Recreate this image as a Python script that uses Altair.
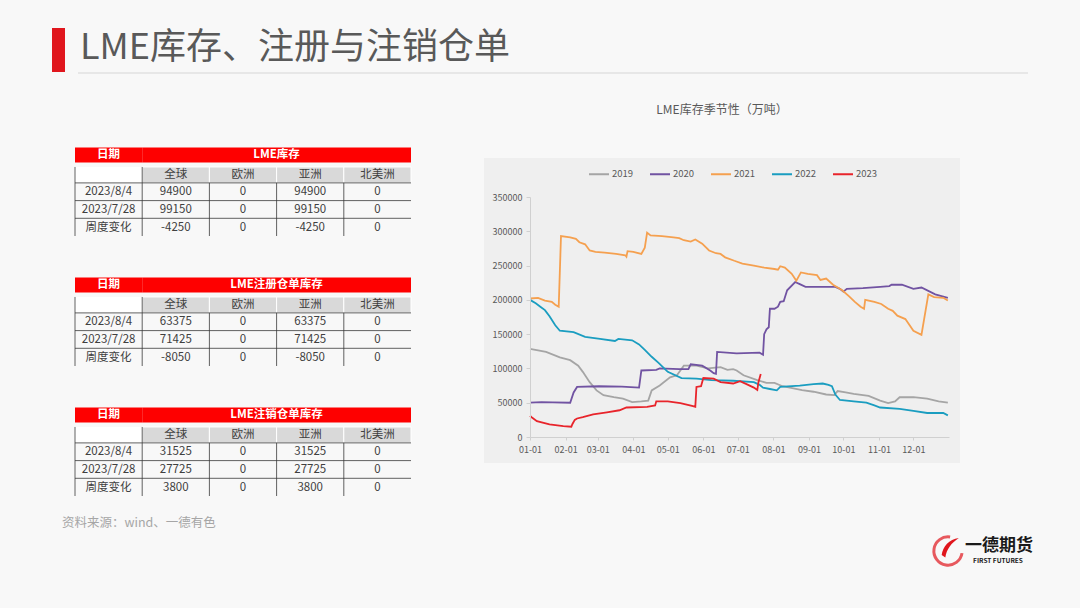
import altair as alt
import pandas as pd

# ---------------- text ----------------
TITLE = "LME库存、注册与注销仓单"
CHART_TITLE = "LME库存季节性（万吨）"
SOURCE = "资料来源：wind、一德有色"
LOGO_CN = "一德期货"
LOGO_EN = "FIRST FUTURES"

# ---------------- tables ----------------
table_titles = ["LME库存", "LME注册仓单库存", "LME注销仓单库存"]
date_header = "日期"
regions = ["全球", "欧洲", "亚洲", "北美洲"]
row_labels = ["2023/8/4", "2023/7/28", "周度变化"]
stock_rows = [[94900, 0, 94900, 0], [99150, 0, 99150, 0], [-4250, 0, -4250, 0]]
registered_rows = [[63375, 0, 63375, 0], [71425, 0, 71425, 0], [-8050, 0, -8050, 0]]
cancelled_rows = [[31525, 0, 31525, 0], [27725, 0, 27725, 0], [3800, 0, 3800, 0]]

# ---------------- seasonal chart (day of year, tonnes) ----------------
years = ["2019", "2020", "2021", "2022", "2023"]
year_colors = ["#a5a5a5", "#7153a2", "#f5a04f", "#1a9dc0", "#e8242b"]

d2019 = [0, 14, 26, 35, 42, 46, 52, 58, 64, 73, 81, 89, 97, 103, 106, 113, 122, 128, 134, 145,
         155, 166, 172, 177, 180, 186, 198, 206, 213, 220, 237, 247, 258, 265, 268, 275, 282, 295,
         305, 312, 318, 322, 334, 346, 356, 364]
v2019 = [128500, 124000, 116000, 112000, 104000, 95000, 80000, 68000, 61000, 58000, 56000, 51000,
         52000, 53000, 68000, 75000, 87000, 90000, 104000, 104000, 100000, 102000, 98000, 99000,
         97000, 90000, 83000, 79000, 79000, 74000, 68500, 66000, 62000, 61000, 67000, 65000, 63000,
         60000, 53000, 49500, 52000, 58000, 58000, 56000, 52000, 50000]

d2020 = [0, 10, 20, 35, 38, 41, 60, 80, 95, 97, 110, 113, 130, 138, 140, 150, 157, 160, 162, 163,
         180, 200, 203, 204, 206, 208, 209, 213, 216, 218, 221, 224, 231, 235, 240, 266, 270, 273,
         276, 290, 305, 313, 315, 324, 334, 341, 353, 364]
v2020 = [50000, 51000, 50500, 50000, 65000, 73000, 74000, 73500, 72000, 97000, 98000, 100000,
         99000, 99000, 106000, 104000, 97000, 93000, 92000, 124000, 122000, 123000, 120000, 150000,
         157000, 160000, 187000, 187000, 190000, 197000, 198000, 214000, 226000, 223000, 219000,
         219000, 216000, 212000, 216000, 217000, 219000, 220000, 222000, 222000, 216000, 218000,
         208000, 203000]

d2021 = [0, 7, 13, 19, 22, 25, 27, 35, 40, 43, 48, 52, 57, 65, 75, 83, 84, 85, 90, 97, 100, 102,
         105, 115, 125, 130, 134, 140, 144, 150, 156, 162, 166, 170, 178, 185, 195, 204, 213, 216,
         218, 222, 228, 232, 236, 242, 250, 253, 258, 264, 272, 278, 283, 288, 291, 292, 300, 306,
         312, 316, 320, 327, 334, 341, 347, 352, 360, 364]
v2021 = [202000, 203000, 199000, 197000, 193000, 190000, 293000, 291000, 289000, 284000, 281000,
         272000, 270000, 269000, 267000, 265000, 263000, 271000, 270000, 267000, 276000, 298000,
         294000, 293000, 291000, 290000, 287000, 285000, 288000, 282000, 272000, 268000, 267000,
         262000, 257000, 253000, 250000, 247000, 245000, 244000, 249000, 247000, 238000, 228000,
         240000, 238000, 236000, 229000, 231000, 222000, 214000, 205000, 197000, 190000, 187000,
         200000, 197000, 194000, 187000, 184000, 177000, 172000, 155000, 149000, 208000, 204000,
         203000, 199000]

d2022 = [0, 5, 9, 13, 17, 22, 26, 38, 48, 61, 74, 77, 89, 95, 100, 106, 112, 120, 132, 145, 158,
         177, 195, 200, 203, 209, 215, 218, 235, 247, 255, 260, 263, 266, 270, 282, 293, 300, 305,
         322, 334, 346, 360, 364]
v2022 = [200000, 195000, 190000, 185000, 176000, 163000, 155000, 153000, 146000, 143000, 140000,
         143000, 141000, 135000, 127000, 117000, 108000, 95000, 86000, 85000, 83000, 82000, 80000,
         76000, 72000, 70000, 68000, 73000, 75000, 77000, 78000, 76000, 74000, 62000, 54000, 52000,
         50000, 46000, 43000, 41000, 38000, 35000, 35000, 31500]

d2023 = [0, 2, 6, 17, 29, 36, 37, 39, 41, 46, 55, 67, 78, 84, 102, 109, 110, 120, 131, 142, 144,
         145, 149, 151, 160, 166, 177, 183, 190, 195, 198, 199, 201]
v2023 = [31000, 28000, 23000, 18500, 16000, 15000, 19000, 25000, 27000, 29000, 33000, 36000,
         39000, 43000, 44000, 46000, 52000, 52000, 49500, 45000, 44000, 73000, 74000, 86000, 85000,
         80000, 78000, 81500, 76000, 72000, 68500, 80000, 92000]

month_starts = [0, 31, 59, 90, 120, 151, 181, 212, 243, 273, 304, 334]
y_ticks = [0, 50000, 100000, 150000, 200000, 250000, 300000, 350000]

# ---------------- layout ----------------
PW, PH = 1080, 608
X0, Y0, W, H = 530, 197, 419, 240
FONT = "Microsoft YaHei, Noto Sans CJK SC"
TXT = "#595959"
BG = "#f8f8f8"


def vx(p):
    return p - X0


def vy(p):
    return p - Y0


def one():
    return pd.DataFrame({"k": [0]})


# panel behind the seasonal chart
panel = alt.Chart(one()).mark_rect(color="#efefef").encode(
    x=alt.value(vx(484)), x2=alt.value(vx(960)), y=alt.value(vy(158)), y2=alt.value(vy(463))
)

series = {"2019": (d2019, v2019), "2020": (d2020, v2020), "2021": (d2021, v2021),
          "2022": (d2022, v2022), "2023": (d2023, v2023)}
lines_df = pd.concat(
    [pd.DataFrame({"year": k, "day": d, "value": v}) for k, (d, v) in series.items()],
    ignore_index=True,
)

lines = alt.Chart(lines_df).mark_line(strokeWidth=1.8).encode(
    x=alt.X("day:Q", scale=alt.Scale(domain=[0, 365], nice=False, zero=False),
            axis=alt.Axis(orient="bottom", values=month_starts, title=None, grid=False,
                          labelExpr="timeFormat(datetime(2023, 0, 1 + datum.value), '%m-%d')",
                          labelFontSize=9, labelColor=TXT, labelFont=FONT, labelPadding=5,
                          labelFlush=False, labelOverlap=False,
                          domainColor="#d0d0d0", tickColor="#d0d0d0", tickSize=3, zindex=1)),
    y=alt.Y("value:Q", scale=alt.Scale(domain=[0, 350000], nice=False),
            axis=alt.Axis(orient="left", values=y_ticks, format="d", title=None, grid=False,
                          labelFontSize=9, labelColor=TXT, labelFont=FONT, labelPadding=4,
                          labelFlush=False, labelOverlap=False,
                          domainColor="#d0d0d0", tickColor="#d0d0d0", tickSize=4, zindex=1)),
    color=alt.Color("year:N", scale=alt.Scale(domain=years, range=year_colors),
                    legend=alt.Legend(orient="none", legendX=58, legendY=-34,
                                      direction="horizontal", title=None, symbolType="stroke",
                                      symbolStrokeWidth=2, symbolSize=400, labelFontSize=9.5,
                                      labelColor=TXT, labelFont=FONT, columnPadding=12,
                                      labelOffset=2)),
)


def make_table(title, rows, top):
    xs = alt.Scale(domain=[0, 5], range=[vx(75), vx(411)], nice=False, zero=False)
    ys = alt.Scale(domain=[0, 5], range=[vy(top), vy(top + 88.5)], nice=False, zero=False)

    red = pd.DataFrame({"c0": [0, 1], "c1": [1, 5], "r0": [0, 0], "r1": [0.85, 0.85]})
    gray = pd.DataFrame({"c0": [1, 2, 3, 4], "c1": [2, 3, 4, 5], "r0": [1.1] * 4, "r1": [2] * 4})
    blank = pd.DataFrame({"c0": [0], "c1": [1], "r0": [1.1], "r1": [2]})

    def rects(df, fill, stroke=None):
        kw = {"stroke": stroke, "strokeWidth": 1} if stroke else {}
        return alt.Chart(df).mark_rect(color=fill, **kw).encode(
            x=alt.X("c0:Q", scale=xs, axis=None), x2="c1:Q",
            y=alt.Y("r0:Q", scale=ys, axis=None), y2="r1:Q",
        )

    rules_rows = []
    for c in [0, 1]:
        rules_rows.append({"a": c, "b": c, "r0": 1.1, "r1": 5})
    for c in [2, 3, 4]:
        rules_rows.append({"a": c, "b": c, "r0": 2, "r1": 5})
    for r in [2, 3, 4]:
        rules_rows.append({"a": 0, "b": 5, "r0": r, "r1": r})
    rules = alt.Chart(pd.DataFrame(rules_rows)).mark_rule(color="#3a3a3a", strokeWidth=0.8).encode(
        x=alt.X("a:Q", scale=xs, axis=None), x2="b:Q",
        y=alt.Y("r0:Q", scale=ys, axis=None), y2="r1:Q",
    )

    head_txt = pd.DataFrame({"cx": [0.5, 3], "cy": [0.45, 0.45], "t": [date_header, title]})
    body = []
    for i, reg in enumerate(regions):
        body.append({"cx": i + 1.5, "cy": 1.57, "t": reg})
    for r, (lab, vals) in enumerate(zip(row_labels, rows)):
        body.append({"cx": 0.5, "cy": r + 2.52, "t": lab})
        for i, v in enumerate(vals):
            body.append({"cx": i + 1.5, "cy": r + 2.52, "t": str(v)})
    body_txt = pd.DataFrame(body)

    def texts(df, color, weight, size):
        return alt.Chart(df).mark_text(color=color, fontWeight=weight, fontSize=size, font=FONT,
                                       baseline="middle", align="center").encode(
            x=alt.X("cx:Q", scale=xs, axis=None),
            y=alt.Y("cy:Q", scale=ys, axis=None),
            text="t:N",
        )

    return alt.layer(
        rects(blank, "#ffffff"),
        rects(red, "#fe0000"),
        rects(gray, "#d9d9d9", stroke="#ffffff"),
        rules,
        texts(head_txt, "#ffffff", "bold", 11.5),
        texts(body_txt, "#404040", "normal", 11.5),
    )


t1 = make_table(table_titles[0], stock_rows, 147.5)
t2 = make_table(table_titles[1], registered_rows, 277.5)
t3 = make_table(table_titles[2], cancelled_rows, 407.5)

# decorations
title_bar = alt.Chart(one()).mark_rect(color="#e0161d").encode(
    x=alt.value(vx(52)), x2=alt.value(vx(65)), y=alt.value(vy(28)), y2=alt.value(vy(72))
)
title_rule = alt.Chart(one()).mark_rule(color="#d6d6d6", strokeWidth=1).encode(
    x=alt.value(vx(78)), x2=alt.value(vx(1028)), y=alt.value(vy(73))
)


def label(txt, x, y, size, color, align="left", weight="normal"):
    return alt.Chart(pd.DataFrame({"t": [txt]})).mark_text(
        fontSize=size, color=color, align=align, baseline="middle", font=FONT, fontWeight=weight
    ).encode(x=alt.value(vx(x)), y=alt.value(vy(y)), text="t:N")


title_txt = label(TITLE, 80, 48, 36, TXT)
chart_title = label(CHART_TITLE, 722, 110, 12, TXT, align="center")
source_txt = label(SOURCE, 62, 523, 12.5, "#a6a6a6")
logo_cn = label(LOGO_CN, 999, 546, 17, "#1a1a1a", align="center", weight="bold")
logo_en = label(LOGO_EN, 998, 561, 6.5, "#1a1a1a", align="center", weight="bold")

ring = alt.Chart(one()).mark_point(
    shape="M 0.15 -0.99 A 1 1 0 1 0 0.99 0.15", filled=False, stroke="#e0161d", strokeWidth=3,
    size=800,
).encode(x=alt.value(vx(948)), y=alt.value(vy(551)))
swoosh = alt.Chart(one()).mark_point(
    shape="M -0.6 0.5 C -0.5 -0.2 0 -0.8 0.8 -0.9 C 0.2 -0.5 -0.2 0 -0.3 0.7 Z",
    filled=True, color="#e0161d", size=600, opacity=1,
).encode(x=alt.value(vx(949)), y=alt.value(vy(549)))

chart = alt.layer(
    panel, lines, t1, t2, t3, title_bar, title_rule, title_txt, chart_title, source_txt,
    ring, swoosh, logo_cn, logo_en,
).resolve_scale(
    x="independent", y="independent", color="independent"
).properties(
    width=W, height=H,
    padding={"left": X0, "top": Y0, "right": PW - X0 - W, "bottom": PH - Y0 - H},
    autosize=alt.AutoSizeParams(type="none"),
).configure(background=BG).configure_view(stroke=None)

chart.save("out.html", embed_options={"renderer": "svg", "actions": False})
